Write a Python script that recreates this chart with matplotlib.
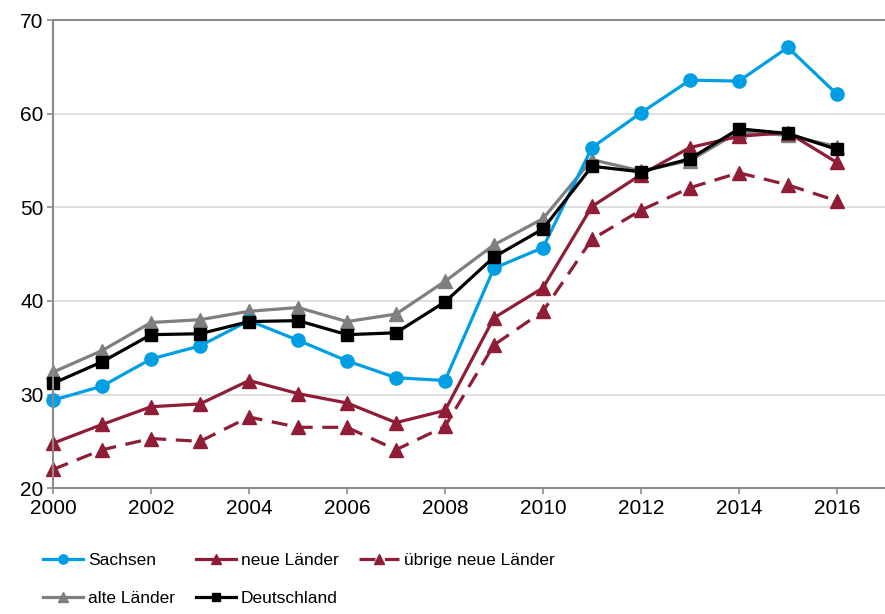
# Entwicklung nach Jahren: Sachsen, neue/alte Länder, Deutschland

import matplotlib
matplotlib.use('Agg')
import matplotlib.pyplot as plt

plt.rcParams['font.family'] = ['Liberation Sans', 'DejaVu Sans']

# data
years = list(range(2000, 2017))
sachsen = [29.4, 30.9, 33.8, 35.2, 37.9, 35.8, 33.6, 31.8, 31.5, 43.5, 45.7,
           56.4, 60.1, 63.6, 63.5, 67.1, 62.1]
neue = [24.8, 26.8, 28.7, 29.0, 31.5, 30.1, 29.1, 27.0, 28.3, 38.2, 41.4,
        50.1, 53.5, 56.4, 57.6, 58.0, 54.8]
uebrige = [22.0, 24.1, 25.3, 25.0, 27.6, 26.5, 26.5, 24.1, 26.6, 35.3, 38.9,
           46.6, 49.7, 52.1, 53.7, 52.4, 50.7]
alte = [32.4, 34.7, 37.7, 38.0, 38.9, 39.3, 37.8, 38.6, 42.1, 46.0, 48.8,
        55.1, 53.9, 55.0, 58.1, 57.7, 56.5]
deutschland = [31.2, 33.5, 36.4, 36.5, 37.8, 37.9, 36.4, 36.6, 39.9, 44.7, 47.7,
               54.4, 53.8, 55.2, 58.4, 57.9, 56.2]
xticks = list(range(2000, 2017, 2))
yticks = [20, 30, 40, 50, 60, 70]

blue = '#009fe3'
red = '#8f1d35'
gray = '#7f7f7f'

fig = plt.figure(figsize=(8.85, 6.14), dpi=100)
ax = fig.add_axes([0.060, 0.205, 0.941, 0.762])

lw = 2.3
ms = 9.5
kw = dict(lw=lw, clip_on=False)
l_alte, = ax.plot(years, alte, color=gray, marker='^', ms=ms + 1, label='alte Länder', **kw)
l_uebr, = ax.plot(years, uebrige, color=red, ls=(0, (5, 3)), marker='^', ms=ms,
                  label='übrige neue Länder', **kw)
l_neue, = ax.plot(years, neue, color=red, marker='^', ms=ms, label='neue Länder', **kw)
l_sach, = ax.plot(years, sachsen, color=blue, marker='o', ms=ms, label='Sachsen', **kw)
l_de, = ax.plot(years, deutschland, color='black', marker='s', ms=ms - 0.5,
                label='Deutschland', **kw)

ax.set_xlim(2000, 2017)
ax.set_ylim(20, 70)
ax.set_xticks(xticks)
ax.set_yticks(yticks)
ax.tick_params(labelsize=15, color='#8c8c8c', length=4, width=1.2)
ax.tick_params(axis='y', pad=3)
ax.grid(axis='y', color='#d9d9d9', lw=1.2)
ax.set_axisbelow(True)
for s in ['left', 'bottom', 'top']:
    ax.spines[s].set_color('#8c8c8c')
    ax.spines[s].set_linewidth(1.5)
ax.spines['right'].set_visible(False)

# legend below the plot, filled column by column
handles = [l_sach, l_alte, l_neue, l_de, l_uebr]
fig.legend(handles, [h.get_label() for h in handles], ncol=3, loc='upper left',
           bbox_to_anchor=(0.0305, 0.125), frameon=False, fontsize=12.5,
           handlelength=2.3, handletextpad=0.3, columnspacing=1.2,
           labelspacing=1.3, markerscale=0.7)

plt.savefig('out.png', dpi=100)
